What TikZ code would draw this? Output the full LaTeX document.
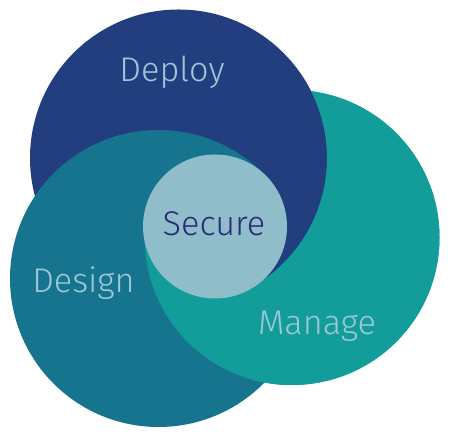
\documentclass[tikz,border=0pt]{standalone}
\usepackage{xcolor}
\usepackage{fontspec}
\setmainfont{Fira Sans Light}
\usepackage{tikz}
\definecolor{deployblue}{HTML}{233E7E}
\definecolor{designblue}{HTML}{16748E}
\definecolor{manageteal}{HTML}{129C9A}
\definecolor{securelight}{HTML}{8FBDCA}
\definecolor{ringtextc}{HTML}{9CC8D8}
\definecolor{securetextc}{HTML}{2A2A78}
\tikzstyle{ringtext} = [anchor=base, inner sep=0pt, font=\fontsize{19.5}{20}\selectfont, text=ringtextc]
\tikzset{
  % circle fills
  deploy/.style={fill=deployblue},
  design/.style={fill=designblue},
  manage/.style={fill=manageteal},
  secure/.style={fill=securelight},
}

\begin{document}
\begin{tikzpicture}[x=0.02cm,y=0.02cm]
        \useasboundingbox (0,0) rectangle (450,438);
        \coordinate (Dep) at (178.5,280);
        \coordinate (Des) at (158.5,159.5);
        \coordinate (Man) at (292,200.5);
        \coordinate (Sec) at (215,211.5);
        % the three rings, Design on top
        \fill[manage] (Man) circle (147.5);
        \fill[deploy] (Dep) circle (148.5);
        \fill[design] (Des) circle (148.5);
        % right: Deploy over the rest
        \begin{scope}
            \clip (Dep) circle (148.5);
            \fill[deploy] (Sec) -- +(-61.5:1000) -- +(-10:1000) -- +(42:1000) -- cycle;
        \end{scope}
        % below Deploy: Manage over Design
        \begin{scope}
            \clip (Man) circle (147.5);
            \fill[manage,even odd rule] (0,0) rectangle (450,438) (Dep) circle (148.5);
        \end{scope}
        % lower left: Manage over the rest
        \begin{scope}
            \clip (Man) circle (147.5);
            \fill[manage] (Sec) -- +(172:1000) -- +(235:1000) -- +(298.5:1000) -- cycle;
        \end{scope}
        % centre
        \fill[secure] (Sec) circle (72);
        % labels
        \node(TDep)[ringtext] at (172,356) {Deploy};
        \node(TDes)[ringtext] at (83.5,145) {Design};
        \node(TMan)[ringtext] at (317,103) {Manage};
        \node(TSec)[ringtext,text=securetextc] at (214,202) {Secure};
    \end{tikzpicture}
\end{document}
